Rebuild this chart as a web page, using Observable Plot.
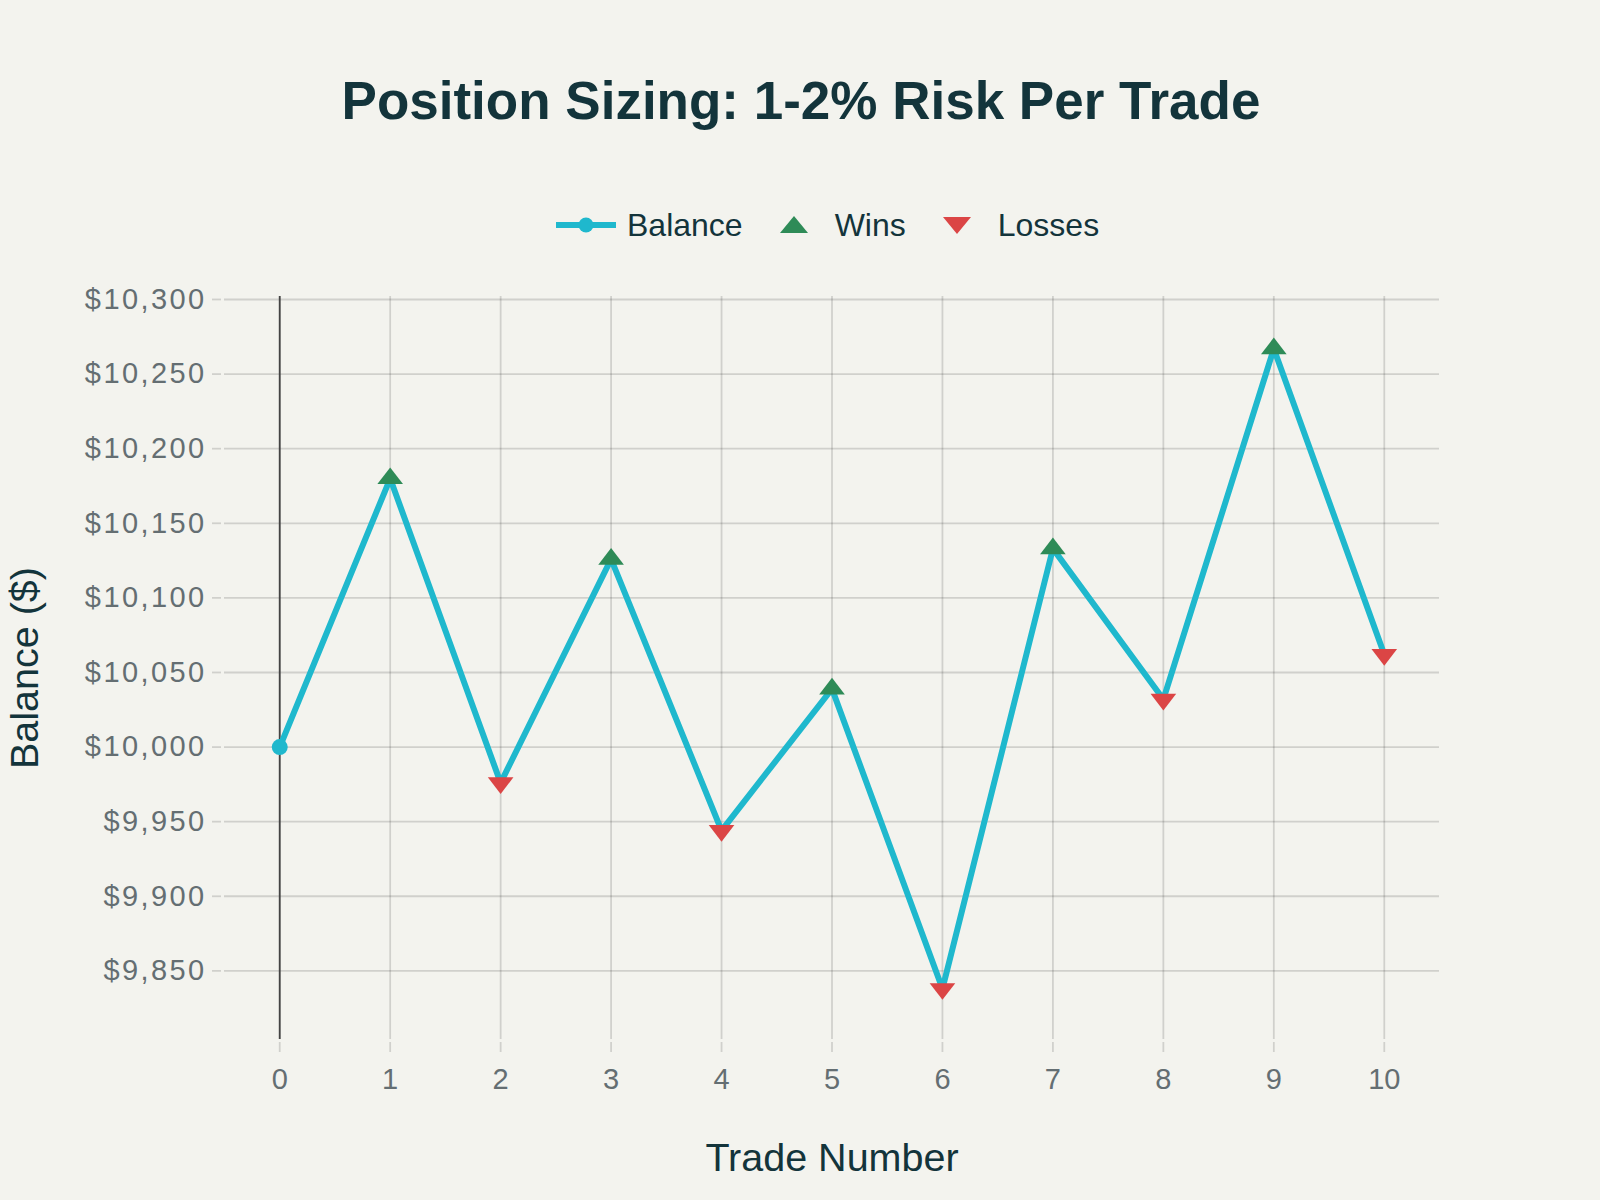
<!DOCTYPE html>
<html>
<head>
<meta charset="utf-8">
<script src="https://cdn.jsdelivr.net/npm/d3@7"></script>
<script src="https://cdn.jsdelivr.net/npm/@observablehq/plot@0.6"></script>
<style>
  html, body { margin: 0; padding: 0; background: #F3F3EE; }
  #wrap { position: relative; width: 1600px; height: 1200px; background: #F3F3EE; font-family: "Liberation Sans", Arial, sans-serif; overflow: hidden; }
  #title { position: absolute; left: 0; top: 74px; width: 1602px; text-align: center; font-size: 53px; line-height: 53px; font-weight: bold; color: #13343B; white-space: nowrap; }
  #legend { position: absolute; left: 556px; top: 209px; height: 32px; display: flex; align-items: center; font-size: 32px; line-height: 32px; color: #13343B; white-space: nowrap; }
  #chart { position: absolute; left: 0; top: 260px; }
  g[aria-label="y-axis tick label"] text { letter-spacing: 2.4px; }
</style>
</head>
<body>
<div id="wrap">
  <div id="title">Position Sizing: 1-2% Risk Per Trade</div>
  <div id="legend"></div>
  <div id="chart"></div>
</div>
<script>
// ---- data ----
const trades = [0, 1, 2, 3, 4, 5, 6, 7, 8, 9, 10];
const balance = [10000, 10180, 9976, 10126, 9944, 10039, 9838, 10133, 10032, 10267, 10062];
const outcome = ["Start", "Win", "Loss", "Win", "Loss", "Win", "Loss", "Win", "Loss", "Win", "Loss"];
const yTicks = [9850, 9900, 9950, 10000, 10050, 10100, 10150, 10200, 10250, 10300];
const seriesNames = ["Balance", "Wins", "Losses"];

const data = trades.map((t, i) => ({trade: t, balance: balance[i], outcome: outcome[i]}));

// ---- styles ----
const TEAL = "#1FB8CD", GREEN = "#2E8B57", RED = "#DB4545", INK = "#13343B", TICK = "#646e72";
const gridStyle = {stroke: "#000", strokeOpacity: 0.14, strokeWidth: 1.8};

// Plotly-like triangle symbols (wider than equilateral)
function tri(up) {
  return {
    draw(ctx, size) {
      const r = Math.sqrt(size / Math.PI);
      const rt = r * 2 / Math.sqrt(3), r2 = r / 2;
      if (up) { ctx.moveTo(-rt, r2); ctx.lineTo(rt, r2); ctx.lineTo(0, -r); }
      else { ctx.moveTo(-rt, -r2); ctx.lineTo(rt, -r2); ctx.lineTo(0, r); }
      ctx.closePath();
    }
  };
}

// ---- legend ----
const legend = document.getElementById("legend");
const swatches = {
  Balance: `<svg width="60" height="16" style="display:block"><line x1="0" y1="8" x2="60" y2="8" stroke="${TEAL}" stroke-width="6"/><circle cx="30" cy="8" r="7.5" fill="${TEAL}"/></svg>`,
  Wins: `<svg width="28" height="18" style="display:block"><polygon points="0,17 28,17 14,0" fill="${GREEN}"/></svg>`,
  Losses: `<svg width="28" height="18" style="display:block"><polygon points="0,1 28,1 14,18" fill="${RED}"/></svg>`
};
seriesNames.forEach((name, i) => {
  const sw = document.createElement("span");
  sw.style.marginLeft = i === 0 ? "0px" : "37px";
  sw.innerHTML = swatches[name];
  const label = document.createElement("span");
  label.style.marginLeft = i === 0 ? "11px" : "27px";
  label.textContent = name;
  legend.appendChild(sw);
  legend.appendChild(label);
});

// ---- chart ----
const chart = Plot.plot({
  width: 1600,
  height: 940,
  marginTop: 36,
  marginBottom: 161,
  marginLeft: 224,
  marginRight: 161,
  style: {background: "transparent", fontFamily: "'Liberation Sans', Arial, sans-serif", fontSize: "29px", color: TICK, overflow: "visible"},
  x: {domain: [-0.5, 10.5]},
  y: {domain: [9804, 10302]},
  marks: [
    Plot.gridY(yTicks, gridStyle),
    Plot.gridX(trades, gridStyle),
    Plot.axisY(yTicks, {tickSize: 9, dx: -3, tickFormat: () => "", ...gridStyle, label: null}),
    Plot.axisY(yTicks, {tickSize: 0, tickPadding: 18, tickFormat: d3.format("$,"), fill: TICK, label: null}),
    Plot.axisX(trades, {tickSize: 10, dy: 3, tickFormat: () => "", ...gridStyle, label: null}),
    Plot.axisX(trades, {tickSize: 0, tickPadding: 29, tickFormat: d3.format("d"), fill: TICK, label: null}),
    Plot.ruleX([0], {stroke: "#444", strokeWidth: 1.8}),
    Plot.line(data, {x: "trade", y: "balance", stroke: TEAL, strokeWidth: 6}),
    Plot.dot(data.filter(d => d.outcome === "Start"), {x: "trade", y: "balance", r: 8, fill: TEAL}),
    Plot.dot(data.filter(d => d.outcome === "Win"), {x: "trade", y: "balance", r: 11.1, symbol: tri(true), fill: GREEN}),
    Plot.dot(data.filter(d => d.outcome === "Loss"), {x: "trade", y: "balance", r: 11.1, symbol: tri(false), fill: RED}),
    Plot.text(["Trade Number"], {frameAnchor: "bottom", dy: 131, fontSize: 39.5, fill: INK}),
    Plot.text(["Balance ($)"], {frameAnchor: "left", textAnchor: "middle", dx: -199, rotate: -90, fontSize: 39.5, fill: INK})
  ]
});
document.getElementById("chart").appendChild(chart);
</script>
</body>
</html>
